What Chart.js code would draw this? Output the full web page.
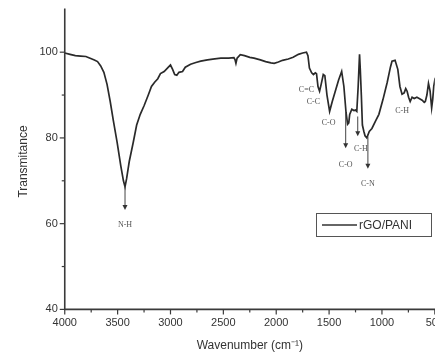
<!DOCTYPE html>
<html><head><meta charset="utf-8">
<script src="https://cdn.jsdelivr.net/npm/chart.js@4.4.1/dist/chart.umd.min.js"></script>
<style>html,body{margin:0;padding:0;background:#fff;overflow:hidden;width:435px;height:358px}#wrap{width:451px;height:358px;position:relative}</style>
</head><body><div id="wrap"><canvas id="c"></canvas></div>
<script>
const wavenumbers = [4000,3950,3900,3850,3800,3760,3720,3690,3660,3630,3600,3570,3540,3505,3470,3445,3430,3415,3390,3352,3320,3286,3250,3210,3180,3150,3120,3095,3060,3020,3000,2980,2960,2940,2920,2886,2860,2810,2760,2714,2650,2600,2524,2450,2400,2390,2381,2370,2340,2300,2250,2210,2150,2100,2050,2019,1980,1940,1886,1840,1790,1750,1714,1700,1686,1665,1648,1630,1619,1605,1590,1575,1555,1540,1520,1495,1470,1440,1410,1381,1360,1340,1325,1314,1305,1285,1265,1250,1238,1225,1212,1205,1195,1185,1171,1160,1143,1120,1095,1060,1029,990,950,920,905,876,850,830,810,790,775,762,748,733,715,695,670,648,620,600,590,575,560,545,530,520,510,500,490];
const transmittance = [99.8,99.5,99.2,99.1,99.0,98.6,98.2,97.8,96.8,95.3,92.5,88.5,84,79,73.5,70,68.6,70.5,74.5,79,83,85.5,87.5,90,92,93,93.8,95,95.5,96.5,97,96,94.8,94.6,95.3,95.5,96.5,97.2,97.6,97.9,98.2,98.4,98.6,98.6,98.7,98.3,97.4,98.6,99.4,99.2,98.8,98.6,98.2,97.8,97.5,97.4,97.7,98.1,98.4,98.8,99.5,99.8,100,99.2,96.3,95.2,94.8,95.2,95,92,90.9,92.5,94.8,94.5,90,86.2,88.5,91,93.5,95.5,92,86,83.2,83.5,85.5,86.7,86.4,86.5,86.2,92,99.5,96,90,83,81.5,80.5,80,81.5,82.2,84,85.5,89,93,96.5,97.9,98.1,96,92,90.2,90.5,91.5,90.9,89.5,88.5,89.5,89.2,89.5,89.2,88.8,88.3,88.5,90,92.7,91,87,89,92,93.5,93];
const seriesName = 'rGO/PANI';
const xTicks = [4000,3500,3000,2500,2000,1500,1000,500];
const yTicks = [40,60,80,100];
// peak annotations: text, wavenumber, transmittance of label
const peakText = ['N-H','C=C','C-C','C-O','C-O','C-H','C-N','C-H'];
const peakW    = [3430,1714,1648,1505,1343,1200,1133,810];
const peakT    = [59.6,91.3,88.5,83.4,73.8,77.5,69.3,86.4];
// arrows: wavenumber, start T, end T
const arrowW    = [3430,1343,1229,1133];
const arrowFrom = [68.6,86.0,85.0,80.3];
const arrowTo   = [63.2,77.6,80.4,72.8];

const axisColor = '#3a3a3a';
const annot = {
  id:'annot',
  afterDatasetsDraw(chart){
    const ctx = chart.ctx, xs = chart.scales.x, ys = chart.scales.y, a = chart.chartArea;
    ctx.save();
    ctx.strokeStyle = axisColor; ctx.lineWidth = 1.6;
    ctx.beginPath(); ctx.moveTo(a.left, a.top - 5); ctx.lineTo(a.left, a.bottom); ctx.lineTo(a.right+6, a.bottom); ctx.stroke();
    ctx.lineWidth = 1.2;
    for (let v = 40; v <= 100; v += 10) {
      const y = ys.getPixelForValue(v); const L = (v % 20 === 0) ? 5 : 3;
      ctx.beginPath(); ctx.moveTo(a.left - L, y); ctx.lineTo(a.left, y); ctx.stroke();
    }
    for (let v = 4000; v >= 500; v -= 250) {
      const x = xs.getPixelForValue(v); const L = (v % 500 === 0) ? 5 : 3;
      ctx.beginPath(); ctx.moveTo(x, a.bottom); ctx.lineTo(x, a.bottom + L); ctx.stroke();
    }
    ctx.strokeStyle = '#444'; ctx.fillStyle = '#333'; ctx.lineWidth = 1;
    arrowW.forEach((w,i)=>{
      const x = xs.getPixelForValue(w), y1 = ys.getPixelForValue(arrowFrom[i]), y2 = ys.getPixelForValue(arrowTo[i]);
      ctx.beginPath(); ctx.moveTo(x, y1); ctx.lineTo(x, y2 - 4); ctx.stroke();
      ctx.beginPath(); ctx.moveTo(x - 2.5, y2 - 5); ctx.lineTo(x + 2.5, y2 - 5); ctx.lineTo(x, y2); ctx.closePath(); ctx.fill();
    });
    ctx.fillStyle = '#555'; ctx.font = '8px "Liberation Serif", serif'; ctx.textAlign = 'center'; ctx.textBaseline = 'middle';
    peakText.forEach((t,i)=>{ ctx.fillText(t, xs.getPixelForValue(peakW[i]), ys.getPixelForValue(peakT[i])); });
    const lx = 316, ly = 213, lw = 115, lh = 23;
    ctx.strokeStyle = '#555'; ctx.lineWidth = 1; ctx.strokeRect(lx + 0.5, ly + 0.5, lw, lh);
    ctx.strokeStyle = '#333'; ctx.lineWidth = 1.4;
    ctx.beginPath(); ctx.moveTo(lx + 6, ly + lh/2 + 0.5); ctx.lineTo(lx + 41, ly + lh/2 + 0.5); ctx.stroke();
    ctx.fillStyle = '#333'; ctx.font = '12px "Liberation Sans", Arial, sans-serif'; ctx.textAlign = 'left';
    ctx.fillText(seriesName, lx + 43, ly + lh/2 + 1);
    ctx.restore();
  }
};

new Chart(document.getElementById('c'), {
  type:'line',
  data:{ datasets:[{ label: seriesName, data: wavenumbers.map((w,i)=>({x:w, y:transmittance[i]})),
    borderColor:'#2a2a2a', borderWidth:1.7, pointRadius:0, tension:0, fill:false }]},
  options:{
    responsive:true, maintainAspectRatio:false, animation:false,
    layout:{ padding:{ top:2, right:0, left:10, bottom:5 } },
    plugins:{ legend:{display:false}, tooltip:{enabled:false} },
    scales:{
      x:{ type:'linear', reverse:true, min:500, max:4000,
        afterBuildTicks(s){ s.ticks = xTicks.map(v=>({value:v})); },
        grid:{ display:false, drawTicks:false }, border:{display:false},
        ticks:{ color:'#333', font:{ size:11, family:'"Liberation Sans", Arial, sans-serif' }, padding:7, maxRotation:0, autoSkip:false, callback:(v)=>String(v) },
        title:{ display:true, text:'Wavenumber (cm\u207B\u00B9)', color:'#333', font:{ size:12, family:'"Liberation Sans", Arial, sans-serif' }, padding:{top:2,bottom:0} }
      },
      y:{ type:'linear', min:40, max:109,
        afterBuildTicks(s){ s.ticks = yTicks.map(v=>({value:v})); },
        grid:{ display:false, drawTicks:false }, border:{display:false},
        ticks:{ color:'#333', font:{ size:11, family:'"Liberation Sans", Arial, sans-serif' }, padding:7, callback:(v)=>String(v) },
        title:{ display:true, text:'Transmitance', color:'#333', font:{ size:12, family:'"Liberation Sans", Arial, sans-serif' }, padding:{top:6,bottom:2} }
      }
    }
  },
  plugins:[annot]
});
</script></body></html>
